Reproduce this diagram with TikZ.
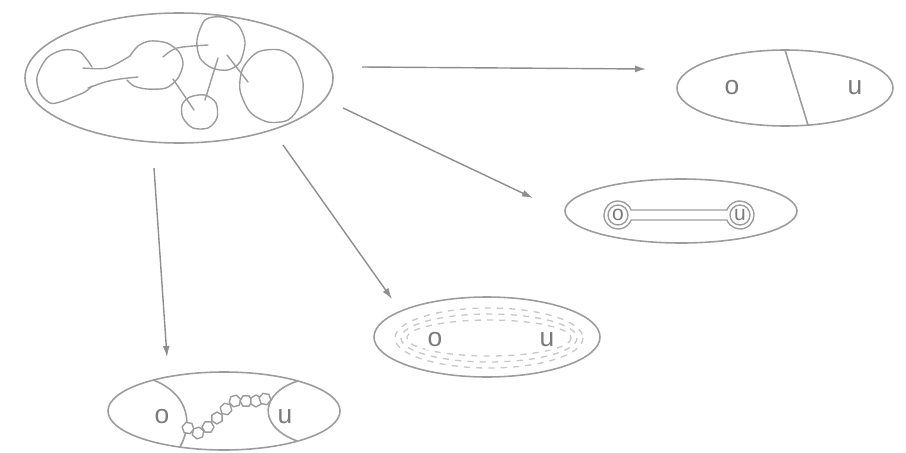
\documentclass[tikz,border=0pt]{standalone}
\usepackage{fontspec}
\setsansfont{Liberation Sans}
\usetikzlibrary{arrows.meta}
\definecolor{pencil}{HTML}{9C9C9C}
\definecolor{arrowgray}{HTML}{8E8E8E}
\definecolor{ink}{HTML}{7A7A7A}

\begin{document}
\begin{tikzpicture}[
    x=0.02cm, y=-0.02cm,
    font=\sffamily,
    outline/.style={pencil, line width=0.9pt},
    sketch/.style={pencil, line width=0.8pt, line cap=round},
    flow/.style={arrowgray, -{Latex[length=2.2mm,width=1.4mm]}, line width=0.8pt},
    letter/.style={text=ink, font=\sffamily\fontsize{15}{18}\selectfont, inner sep=0pt},
    halo/.style={pencil!55, line width=0.75pt, dash pattern=on 3.5pt off 3.5pt},
    bead/.style={pencil, fill=white, line width=0.8pt, line join=round}
]

\useasboundingbox (0,0) rectangle (906,453);

% source: tangled blobs
\draw[outline] (179,78) ellipse [x radius=154, y radius=65];

\draw[sketch] plot[smooth] coordinates {(92,67) (80,52) (63,50) (47,58)
    (37,77) (40,93) (50,103) (60,102) (73,97) (85,92) (92,86)};
\draw[sketch] plot[smooth] coordinates {(83,68) (107,68) (130,56)};
\draw[sketch] plot[smooth] coordinates {(88,88) (105,82) (120,79) (138,77)};
\draw[sketch] plot[smooth] coordinates {(130,56) (138,46) (150,41) (167,43) (179,52)
    (183,64) (178,78) (166,88) (147,89) (134,86) (127,80)};
\draw[sketch] plot[smooth cycle] coordinates {(205,20) (222,17) (238,25) (245,42)
    (240,62) (228,70) (212,68) (200,58) (197,40)};
\draw[sketch] plot[smooth cycle] coordinates {(190,97) (205,95) (216,103) (217,118)
    (208,128) (193,128) (183,118) (182,105)};
\draw[sketch] plot[smooth cycle] coordinates {(258,52) (280,50) (295,60) (303,82)
    (300,105) (288,120) (268,122) (250,112) (240,90) (243,68)};
\draw[sketch] plot[smooth] coordinates {(163,57) (177,48) (208,45)};
\draw[sketch] (173,79) -- (194,110);
\draw[sketch] (218,58) -- (205,100);
\draw[sketch] (227,55) -- (248,82);

% split state
\draw[outline] (785,88) ellipse [x radius=108, y radius=38];
\draw[outline] (785,50) -- (808,125);
\node[letter] (oA) at (732,88) {o};
\node[letter] (uA) at (855,88) {u};

% bound pair
\draw[outline] (681,211) ellipse [x radius=116, y radius=32];
\draw[sketch] (631.08,210) arc[start angle=-20.9, end angle=-339.1, radius=14]
    -- (726.92,220) arc[start angle=159.1, end angle=-159.1, radius=14] -- cycle;
\draw[sketch] (618,215) circle[radius=10];
\draw[sketch] (740,215) circle[radius=10];
\node[letter, font=\sffamily\fontsize{12}{14}\selectfont] (oB) at (618,215) {o};
\node[letter, font=\sffamily\fontsize{12}{14}\selectfont] (uB) at (740,215) {u};

% cloud
\draw[outline] (487,337) ellipse [x radius=113, y radius=40];
\foreach \rx/\ry in {94/30, 88/24, 82/18}
    \draw[halo] (489,338) ellipse [x radius=\rx, y radius=\ry];
\node[letter, fill=white, inner sep=1.5pt] (oC) at (435,340) {o};
\node[letter, fill=white, inner sep=1.5pt] (uC) at (547,340) {u};

% chain
\draw[outline] (224,411) ellipse [x radius=116, y radius=39];
\draw[outline] (153,380) .. controls (185,392) and (195,420) .. (180,447);
\draw[outline] (298,381) .. controls (262,392) and (255,425) .. (297,441);
\foreach \x/\y/\a in {188/428/10, 198/433/40, 208/427/0, 217/418/30, 226/409/15,
                      235/401/45, 246/401/0, 256/401/30, 265/399/10}
    \draw[bead] (\x,\y) +(\a:6) -- +(\a+60:6) -- +(\a+120:6) -- +(\a+180:6)
        -- +(\a+240:6) -- +(\a+300:6) -- cycle;
\node[letter] (oD) at (162,417) {o};
\node[letter] (uD) at (285,417) {u};

% arrows
\coordinate (t1) at (362,67);  \coordinate (h1) at (646,69);
\coordinate (t2) at (343,108); \coordinate (h2) at (533,198);
\coordinate (t3) at (283,145); \coordinate (h3) at (392,299);
\coordinate (t4) at (154,168); \coordinate (h4) at (167,357);
\draw[flow] (t1) -- (h1);
\draw[flow] (t2) -- (h2);
\draw[flow] (t3) -- (h3);
\draw[flow] (t4) -- (h4);

\end{tikzpicture}
\end{document}
